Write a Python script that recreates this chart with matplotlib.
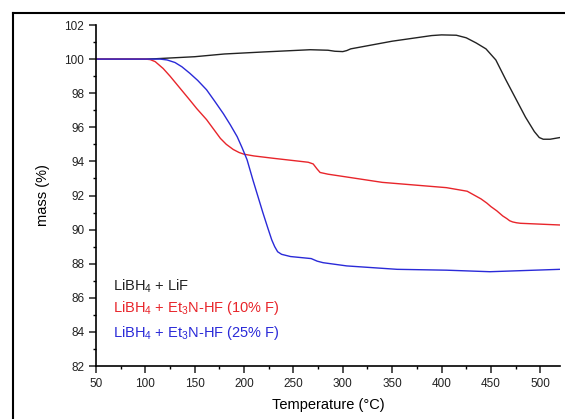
import numpy as np
import matplotlib
matplotlib.use('Agg')
import matplotlib.pyplot as plt
from matplotlib.lines import Line2D
from matplotlib.ticker import MultipleLocator

plt.rcParams['font.family'] = ['Liberation Sans', 'DejaVu Sans']
plt.rcParams['mathtext.default'] = 'regular'

# TGA curves (temperature in C, mass in %)
t_lif = [50, 100, 110, 130, 150, 180, 220, 267, 285, 292, 300, 304, 308, 350, 390, 400, 415,
         425, 435, 445, 455, 465, 475, 485, 494, 499, 503, 510, 520]
m_lif = [100.0, 100.0, 100.02, 100.08, 100.14, 100.3, 100.42, 100.55, 100.52, 100.46, 100.44, 100.5, 100.6, 101.05, 101.38, 101.42, 101.4,
         101.25, 100.95, 100.6, 99.95, 98.8, 97.7, 96.6, 95.75, 95.4, 95.3, 95.3, 95.4]

t_10 = [50, 100, 105, 110, 118, 125, 135, 145, 152, 162, 169, 176, 182, 189, 195, 200, 210, 230,
        265, 270, 274, 277, 285, 300, 340, 405, 426, 440, 446, 450, 456, 462, 466, 469, 472, 476,
        480, 520]
m_10 = [100.0, 100.0, 99.97, 99.85, 99.45, 99.0, 98.3, 97.6, 97.1, 96.45, 95.9, 95.35, 95.0, 94.7, 94.52, 94.42, 94.32, 94.18,
        93.95, 93.85, 93.55, 93.35, 93.25, 93.12, 92.77, 92.46, 92.25, 91.8, 91.55, 91.35, 91.1, 90.8, 90.65, 90.52, 90.45, 90.4,
        90.37, 90.27]

t_25 = [50, 115, 122, 130, 137, 145, 153, 162, 170, 179, 186, 193, 198, 203, 209, 214, 219,
        224, 228, 231, 234, 238, 247, 268, 274, 280, 304, 355, 405, 449, 520]
m_25 = [100.0, 100.0, 99.95, 99.8, 99.55, 99.17, 98.75, 98.2, 97.55, 96.8, 96.15, 95.45, 94.8, 94.1, 92.9, 91.95, 91.0,
        90.1, 89.4, 89.0, 88.7, 88.55, 88.42, 88.3, 88.15, 88.06, 87.87, 87.67, 87.62, 87.53, 87.67]

labels = ['LiBH$_4$ + LiF',
          'LiBH$_4$ + Et$_3$N-HF (10% F)',
          'LiBH$_4$ + Et$_3$N-HF (25% F)']
colors = ['#222222', '#e8252b', '#2a2ad8']

fig = plt.figure(figsize=(5.65, 4.19), dpi=100)
ax = fig.add_axes([96/565, 1-366/419, (560-96)/565, (366-25)/419])

ax.plot(t_lif, m_lif, color=colors[0], lw=1.0)
ax.plot(t_10, m_10, color=colors[1], lw=1.0)
ax.plot(t_25, m_25, color=colors[2], lw=1.0)

ax.set_xlim(50, 520)
ax.set_ylim(82, 102)
ax.xaxis.set_major_locator(MultipleLocator(50))
ax.xaxis.set_minor_locator(MultipleLocator(25))
ax.yaxis.set_major_locator(MultipleLocator(2))
ax.yaxis.set_minor_locator(MultipleLocator(1))
ax.spines['top'].set_visible(False)
ax.spines['right'].set_visible(False)
for s in ['left', 'bottom']:
    ax.spines[s].set_linewidth(1.2)
ax.tick_params(which='major', direction='out', length=5, width=1.1, labelsize=8.5, colors='#222222')
ax.tick_params(which='minor', direction='out', length=2.5, width=1.0)

ax.set_xlabel('Temperature (\u00b0C)', fontsize=10.5, labelpad=6)
ax.set_ylabel('mass (%)', fontsize=10.5, labelpad=10)

# legend as coloured text lines
ypos = [0.235, 0.17, 0.097]
for lab, c, yy in zip(labels, colors, ypos):
    ax.text(0.037, yy, lab, color=c, fontsize=10.5, transform=ax.transAxes, va='center')

# outer frame (only left and top edges visible in the crop)
fig.add_artist(Line2D([13/565, 13/565], [0, 1-13/419], transform=fig.transFigure, color='black', lw=1.5))
fig.add_artist(Line2D([13/565, 1], [1-13/419, 1-13/419], transform=fig.transFigure, color='black', lw=1.5))

fig.savefig('out.png', dpi=100)
